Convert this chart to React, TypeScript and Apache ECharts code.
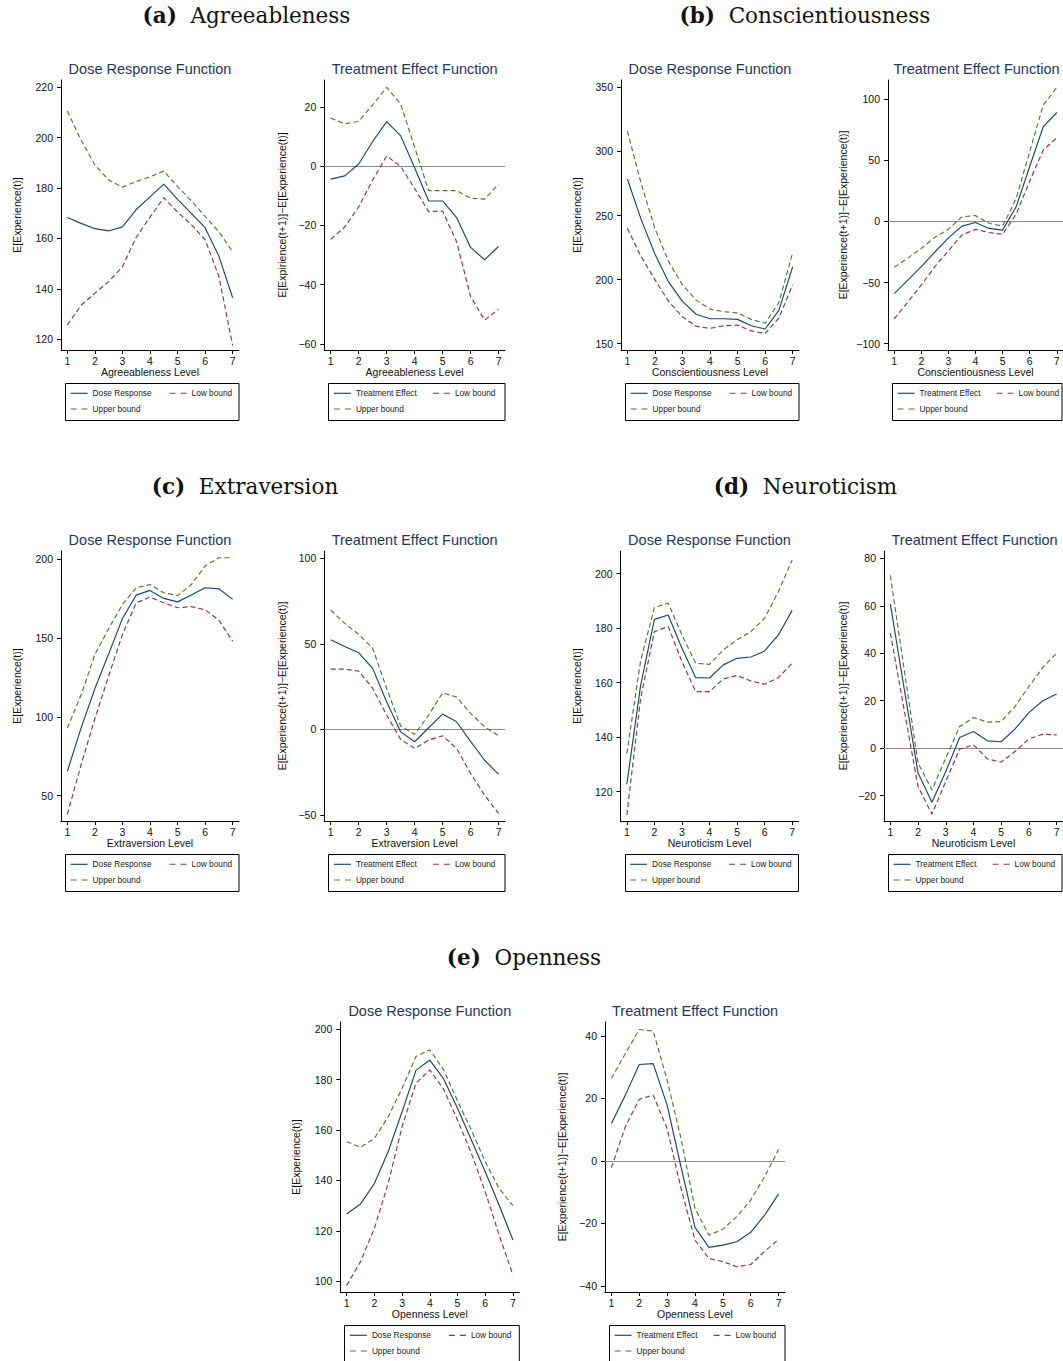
import React, { useEffect, useRef } from "react";
import * as echarts from "echarts";

// ---------- data ----------
const levels = [1, 1.5, 2, 2.5, 3, 3.5, 4, 4.5, 5, 5.5, 6, 6.5, 7];
const xTicks = [1, 2, 3, 4, 5, 6, 7];

// (a) Agreeableness
const agrDose = [168.3, 166.0, 163.9, 163.0, 164.6, 171.5, 176.5, 181.6, 175.5, 170.0, 164.3, 153.0, 136.5];
const agrDoseLow = [125.7, 133.5, 138.3, 142.9, 148.8, 160.5, 168.5, 176.2, 170.5, 165.5, 159.5, 145.0, 117.5];
const agrDoseUp = [210.6, 199.0, 189.2, 183.2, 180.4, 182.6, 184.5, 186.8, 180.6, 175.0, 168.8, 162.7, 154.8];
const agrEffect = [-4.3, -3.2, 0.8, 8.4, 15.1, 10.3, -0.5, -11.7, -11.7, -17.3, -27.4, -31.6, -27.1];
const agrEffectLow = [-24.7, -20.5, -13.7, -4.6, 3.5, 0.0, -7.5, -15.3, -15.1, -25.5, -44.0, -52.0, -48.3];
const agrEffectUp = [16.3, 14.4, 15.2, 20.8, 26.7, 21.1, 6.5, -8.2, -8.2, -8.2, -10.8, -11.1, -6.0];

// (b) Conscientiousness
const conDose = [278.5, 247, 220, 198, 183, 173, 169.5, 169.5, 169, 164, 161.5, 176, 210];
const conDoseLow = [240, 218, 200, 183, 171, 163.5, 162, 164, 164.5, 160, 158, 170, 196];
const conDoseUp = [316, 275, 240, 214, 196, 184, 177, 175, 174, 169, 166, 182, 221];
const conEffect = [-59, -48, -37, -25, -13.4, -3.8, -0.8, -5.7, -7.1, 12, 45, 77.5, 89.2];
const conEffectLow = [-79.7, -66, -52, -37, -24, -11, -6.5, -9, -10.5, 6, 33, 58.5, 68.5];
const conEffectUp = [-37.4, -30, -22, -13, -6.3, 3.8, 4.9, -1.5, -3.8, 18.8, 57, 95.2, 109.7];

// (c) Extraversion
const extDose = [65.4, 93, 118, 140, 162.5, 177.3, 180.3, 175.2, 173, 177.3, 182, 181.3, 174.6];
const extDoseLow = [38.2, 69.6, 99, 126, 152.3, 172.4, 176, 172.4, 169.3, 170, 168, 161.4, 148];
const extDoseUp = [92.9, 114, 139.6, 156, 171.4, 182, 184, 178.8, 177, 184, 195.8, 201, 201];
const extEffect = [52.4, 48.5, 44.8, 35.7, 16, -1.4, -7.2, 1, 9, 4.5, -7, -18, -26.3];
const extEffectLow = [35.3, 35.3, 34.1, 24, 8.4, -5.8, -11.1, -6.2, -3.7, -11.1, -25.7, -38.4, -49.1];
const extEffectUp = [69.8, 62, 55.6, 47.4, 24, 2, -2.9, 8.4, 21.4, 18.9, 9.4, 1.6, -3.7];

// (d) Neuroticism
const neuDose = [122.7, 159, 183.2, 184.8, 172.6, 161.8, 161.7, 166.5, 168.9, 169.4, 171.6, 177.5, 186.5];
const neuDoseLow = [111.4, 154.2, 178.7, 180.6, 167.7, 156.7, 156.7, 161.3, 162.6, 160.6, 159.4, 161.8, 167.1];
const neuDoseUp = [134, 168, 187.6, 189.1, 177.5, 167.1, 166.7, 172, 175.7, 178.7, 183.6, 193.4, 205];
const neuEffect = [60.7, 25, -10.5, -22.8, -9.8, 4.5, 7, 3.1, 2.7, 8.1, 15, 20, 22.8];
const neuEffectLow = [48.5, 16, -16.2, -27.8, -14, -0.4, 1.4, -4.5, -5.9, -1.4, 3.9, 5.9, 5.6];
const neuEffectUp = [72.8, 33, -6.3, -17.6, -4.2, 9.1, 12.9, 11, 11.2, 17.6, 26, 34, 40];

// (e) Openness
const opeDose = [126.7, 130.7, 138.8, 151.5, 167.3, 183.7, 187.8, 180.3, 168.7, 156.1, 143.5, 130.3, 116.4];
const opeDoseLow = [98.3, 107.8, 121, 138.9, 161.4, 178.6, 183.9, 176.2, 164, 150.8, 135.6, 118.4, 102.5];
const opeDoseUp = [155.4, 153.2, 156.7, 165.3, 176.6, 189.2, 191.9, 183.9, 171.6, 160, 147.5, 136.9, 130];
const opeEffect = [11.9, 21, 30.8, 31.1, 17.8, -2, -21.3, -27.7, -27, -25.9, -22.9, -17.4, -10.6];
const opeEffectLow = [-2.2, 10.9, 19.7, 21, 10.3, -8.9, -25.4, -31.3, -32.3, -33.9, -33.2, -29, -25.2];
const opeEffectUp = [26.3, 34.3, 42, 41.5, 25.8, 7.1, -15.3, -23.8, -21.9, -17.9, -12.6, -5.1, 3.6];

// tick labels
const agrDoseTicks = [120, 140, 160, 180, 200, 220];
const agrEffectTicks = [-60, -40, -20, 0, 20];
const conDoseTicks = [150, 200, 250, 300, 350];
const conEffectTicks = [-100, -50, 0, 50, 100];
const extDoseTicks = [50, 100, 150, 200];
const extEffectTicks = [-50, 0, 50, 100];
const neuDoseTicks = [120, 140, 160, 180, 200];
const neuEffectTicks = [-20, 0, 20, 40, 60, 80];
const opeDoseTicks = [100, 120, 140, 160, 180, 200];
const opeEffectTicks = [-40, -20, 0, 20, 40];

const headings = [
  { tag: "(a)", name: "Agreeableness", cx: 246.5, row: 0 },
  { tag: "(b)", name: "Conscientiousness", cx: 805, row: 0 },
  { tag: "(c)", name: "Extraversion", cx: 245, row: 1 },
  { tag: "(d)", name: "Neuroticism", cx: 805.5, row: 1 },
  { tag: "(e)", name: "Openness", cx: 524, row: 2 },
];

// ---------- styling / layout ----------
const SANS = "'Liberation Sans', Arial, Helvetica, sans-serif";
const SERIF = "'DejaVu Serif', 'Liberation Serif', serif";
const BLUE = "#1a476f";
const RED = "#90353b";
const GREEN = "#55752f";
const TITLE_C = "#25365f";
const DASH = [5, 3];
const LEG_DASH = [6, 5];
const LW = 1.15;
const ROW_TOP = [80, 551, 1022];
const PLOT_H = 270;

const DOSE_Y = "E[Experience(t)]";
const EFF_Y = "E[Experience(t+1)]\u2212E[Experience(t)]";
const EFF_Y_TYPO = "E[Expirience(t+1)]\u2212E[Experience(t)]";

type Panel = {
  kind: "dose" | "effect";
  row: number;
  left: number;
  width: number;
  xName: string;
  yName: string;
  yGap: number;
  yMin: number;
  yMax: number;
  yTicks: number[];
  main: number[];
  low: number[];
  up: number[];
};

const panels: Panel[] = [
  { kind: "dose", row: 0, left: 61, width: 178, xName: "Agreeableness Level", yName: DOSE_Y, yGap: 39, yMin: 115.75, yMax: 222.9, yTicks: agrDoseTicks, main: agrDose, low: agrDoseLow, up: agrDoseUp },
  { kind: "effect", row: 0, left: 324.3, width: 180.7, xName: "Agreeableness Level", yName: EFF_Y_TYPO, yGap: 37, yMin: -62.1, yMax: 29.2, yTicks: agrEffectTicks, main: agrEffect, low: agrEffectLow, up: agrEffectUp },
  { kind: "dose", row: 0, left: 621, width: 178, xName: "Conscientiousness Level", yName: DOSE_Y, yGap: 39, yMin: 145.1, yMax: 355.7, yTicks: conDoseTicks, main: conDose, low: conDoseLow, up: conDoseUp },
  { kind: "effect", row: 0, left: 888, width: 177, xName: "Conscientiousness Level", yName: EFF_Y, yGap: 40, yMin: -105.2, yMax: 115.8, yTicks: conEffectTicks, main: conEffect, low: conEffectLow, up: conEffectUp },
  { kind: "dose", row: 1, left: 61, width: 178, xName: "Extraversion Level", yName: DOSE_Y, yGap: 39, yMin: 33.9, yMax: 205.3, yTicks: extDoseTicks, main: extDose, low: extDoseLow, up: extDoseUp },
  { kind: "effect", row: 1, left: 324.3, width: 180.7, xName: "Extraversion Level", yName: EFF_Y, yGap: 37, yMin: -53.5, yMax: 104.3, yTicks: extEffectTicks, main: extEffect, low: extEffectLow, up: extEffectUp },
  { kind: "dose", row: 1, left: 620.5, width: 178, xName: "Neuroticism Level", yName: DOSE_Y, yGap: 38.5, yMin: 109.2, yMax: 208.3, yTicks: neuDoseTicks, main: neuDose, low: neuDoseLow, up: neuDoseUp },
  { kind: "effect", row: 1, left: 884, width: 181, xName: "Neuroticism Level", yName: EFF_Y, yGap: 36, yMin: -30.7, yMax: 83.1, yTicks: neuEffectTicks, main: neuEffect, low: neuEffectLow, up: neuEffectUp },
  { kind: "dose", row: 2, left: 340.3, width: 179, xName: "Openness Level", yName: DOSE_Y, yGap: 38.5, yMin: 95.75, yMax: 202.9, yTicks: opeDoseTicks, main: opeDose, low: opeDoseLow, up: opeDoseUp },
  { kind: "effect", row: 2, left: 605, width: 180, xName: "Openness Level", yName: EFF_Y, yGap: 38, yMin: -42, yMax: 44.4, yTicks: opeEffectTicks, main: opeEffect, low: opeEffectLow, up: opeEffectUp },
];

const fmt = (v: number) => (v < 0 ? "\u2212" + Math.abs(v) : String(v));

function buildOption() {
  const grid: any[] = [];
  const xAxis: any[] = [];
  const yAxis: any[] = [];
  const series: any[] = [];
  const legend: any[] = [];
  const graphic: any[] = [];

  const axisLine = { show: true, onZero: false, lineStyle: { color: "#000", width: 1 } };
  const axisTickBase = { show: true, inside: false, length: 4, lineStyle: { color: "#000", width: 1 } };
  const labelBase = { color: "#111", fontSize: 10.5, fontFamily: SANS };

  panels.forEach((p, i) => {
    const top = ROW_TOP[p.row];
    grid.push({ left: p.left, top, width: p.width, height: PLOT_H, containLabel: false });
    xAxis.push({
      type: "value",
      gridIndex: i,
      min: 0.77,
      max: 7.23,
      axisLine,
      axisTick: { ...axisTickBase, customValues: xTicks },
      axisLabel: { ...labelBase, margin: 5, customValues: xTicks, formatter: fmt },
      splitLine: { show: false },
      name: p.xName,
      nameLocation: "middle",
      nameGap: 16,
      nameTextStyle: { ...labelBase },
    });
    yAxis.push({
      type: "value",
      gridIndex: i,
      min: p.yMin,
      max: p.yMax,
      axisLine,
      axisTick: { ...axisTickBase, customValues: p.yTicks },
      axisLabel: { ...labelBase, margin: 8, customValues: p.yTicks, formatter: fmt },
      splitLine: { show: false },
      name: p.yName,
      nameLocation: "middle",
      nameGap: p.yGap,
      nameRotate: 90,
      nameTextStyle: { ...labelBase },
    });
    const mainName = p.kind === "dose" ? "Dose Response" : "Treatment Effect";
    const mk = (arr: number[]) => levels.map((x, k) => [x, arr[k]]);
    const mainSeries: any = {
      type: "line",
      name: mainName,
      xAxisIndex: i,
      yAxisIndex: i,
      data: mk(p.main),
      symbol: "none",
      silent: true,
      z: 4,
      lineStyle: { color: BLUE, width: LW, type: "solid" },
      itemStyle: { color: BLUE },
    };
    if (p.kind === "effect") {
      mainSeries.markLine = {
        silent: true,
        symbol: "none",
        label: { show: false },
        lineStyle: { color: "#8c8c8c", type: "solid", width: 1 },
        z: 1,
        data: [{ yAxis: 0 }],
      };
    }
    series.push(mainSeries);
    series.push({
      type: "line",
      name: "Low bound",
      xAxisIndex: i,
      yAxisIndex: i,
      data: mk(p.low),
      symbol: "none",
      silent: true,
      z: 3,
      lineStyle: { color: RED, width: LW, type: DASH },
      itemStyle: { color: RED },
    });
    series.push({
      type: "line",
      name: "Upper bound",
      xAxisIndex: i,
      yAxisIndex: i,
      data: mk(p.up),
      symbol: "none",
      silent: true,
      z: 3,
      lineStyle: { color: GREEN, width: LW, type: DASH },
      itemStyle: { color: GREEN },
    });

    // legends (one component per entry to reproduce Stata's column layout)
    const legBase = {
      orient: "horizontal",
      padding: 0,
      itemWidth: 17,
      itemHeight: 10,
      selectedMode: false,
      itemStyle: { opacity: 0, borderWidth: 0 },
      textStyle: { fontSize: 8.3, color: "#222", fontFamily: SANS },
    };
    legend.push({
      ...legBase,
      data: [mainName],
      left: p.left + 9,
      top: top + 309.3,
      lineStyle: { color: BLUE, width: LW, type: "solid" },
    });
    legend.push({
      ...legBase,
      data: ["Low bound"],
      left: p.left + 108,
      top: top + 309.3,
      lineStyle: { color: RED, width: LW, type: LEG_DASH },
    });
    legend.push({
      ...legBase,
      data: ["Upper bound"],
      left: p.left + 9,
      top: top + 325,
      lineStyle: { color: GREEN, width: LW, type: LEG_DASH },
    });

    // legend frame
    const bx = Math.round(p.left + 4) + 0.5;
    const bRight = Math.min(p.left + p.width, 1062);
    graphic.push({
      type: "rect",
      silent: true,
      shape: { x: bx, y: top + 303.5, width: bRight - bx, height: 37 },
      style: { fill: "none", stroke: "#000", lineWidth: 1 },
    });

    // panel title
    graphic.push({
      type: "text",
      silent: true,
      x: p.left + p.width / 2,
      y: top - 11,
      style: {
        text: p.kind === "dose" ? "Dose Response Function" : "Treatment Effect Function",
        fill: TITLE_C,
        font: `14.5px ${SANS}`,
        align: "center",
        verticalAlign: "middle",
      },
    });
  });

  headings.forEach((h) => {
    graphic.push({
      type: "text",
      silent: true,
      x: h.cx,
      y: ROW_TOP[h.row] - 65,
      style: {
        text: `{b|${h.tag}}  ${h.name}`,
        fill: "#111",
        font: `21.5px ${SERIF}`,
        align: "center",
        verticalAlign: "middle",
        rich: {
          b: { fontWeight: "bold", fontSize: 21.5, fontFamily: SERIF, fill: "#111" },
        },
      },
    });
  });

  return {
    animation: false,
    backgroundColor: "#fff",
    textStyle: { fontFamily: SANS },
    grid,
    xAxis,
    yAxis,
    series,
    legend,
    graphic,
  };
}

export default function App() {
  const ref = useRef<HTMLDivElement>(null);
  useEffect(() => {
    if (!ref.current) return;
    const chart = echarts.init(ref.current, undefined, { renderer: "svg" });
    chart.setOption(buildOption() as any);
    return () => chart.dispose();
  }, []);
  return (
    <div
      ref={ref}
      style={{ position: "absolute", left: 0, top: 0, width: 1063, height: 1361, background: "#fff" }}
    />
  );
}
